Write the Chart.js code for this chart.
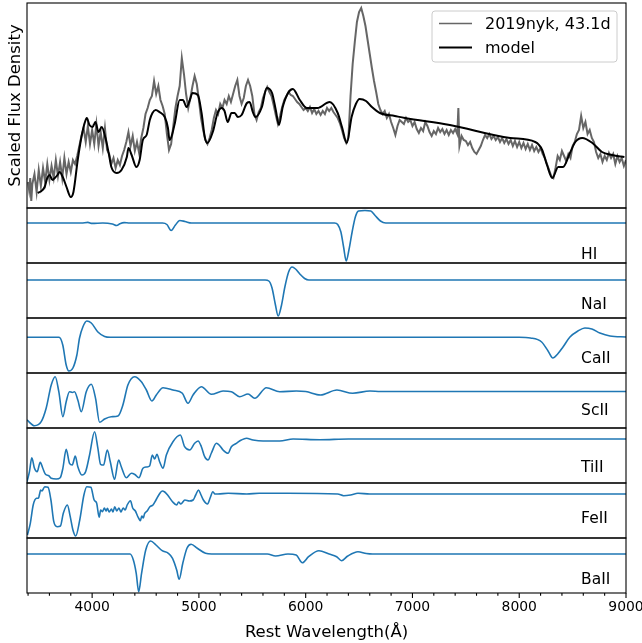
<!DOCTYPE html>
<html><head><meta charset="utf-8">
<script src="https://cdn.jsdelivr.net/npm/chart.js@4.4.0/dist/chart.umd.min.js"></script>
<style>html,body{margin:0;padding:0;background:#fff;}canvas{display:block;}</style>
</head><body>
<canvas id="c" width="642" height="643"></canvas>
<script>
// ---------------- data ----------------
const xTickValues = [4000, 5000, 6000, 7000, 8000, 9000];
const xMinorTickValues = [3400, 3600, 3800, 4200, 4400, 4600, 4800, 5200, 5400, 5600, 5800, 6200, 6400, 6600, 6800, 7200, 7400, 7600, 7800, 8200, 8400, 8600, 8800];

// observed spectrum [wavelength (Å), scaled flux]
const obsSpectrum = [
[3400,26],[3410,18],[3420,30],[3430,7],[3440,24],[3460,34],[3480,16],[3500,38],[3520,22],[3540,40],
[3560,26],[3580,44],[3600,28],[3620,42],[3640,30],[3660,48],[3680,32],[3700,46],[3720,30],[3740,50],
[3760,34],[3780,46],[3800,36],[3820,48],[3840,44],[3860,52],[3880,62],[3900,72],[3920,80],[3940,66],
[3960,82],[3980,64],[4000,78],[4020,64],[4040,84],[4060,62],[4080,76],[4100,60],[4120,80],[4140,58],
[4160,54],[4180,44],[4200,50],[4220,40],[4240,48],[4260,43],[4280,52],[4300,58],[4320,66],[4340,76],
[4360,62],[4380,72],[4400,57],[4420,66],[4440,55],[4460,70],[4480,80],[4500,94],[4520,100],[4540,108],
[4560,112],[4580,127],[4600,114],[4620,122],[4640,108],[4660,102],[4680,94],[4700,74],[4720,58],[4740,64],
[4760,82],[4780,100],[4800,112],[4820,122],[4840,150],[4860,134],[4880,114],[4900,100],[4920,110],[4940,122],
[4960,132],[4980,124],[5000,108],[5020,90],[5040,78],[5060,68],[5080,64],[5100,70],[5120,78],[5140,90],
[5160,98],[5180,94],[5200,104],[5220,100],[5240,108],[5260,104],[5280,112],[5300,106],[5320,114],[5340,122],
[5360,128],[5380,112],[5400,104],[5420,110],[5440,122],[5460,128],[5480,122],[5500,112],[5520,94],[5540,88],
[5560,96],[5580,100],[5600,110],[5620,116],[5640,121],[5660,116],[5680,112],[5700,103],[5720,93],[5740,84],
[5760,92],[5780,101],[5800,108],[5820,112],[5840,116],[5860,113],[5880,112],[5900,109],[5920,106],[5940,104],
[5960,101],[5980,98],[6000,100],[6020,97],[6040,101],[6060,95],[6080,99],[6100,94],[6120,97],[6140,93],
[6160,97],[6180,94],[6200,100],[6220,97],[6240,100],[6260,96],[6280,93],[6300,90],[6320,85],[6340,78],
[6360,70],[6380,65],[6400,70],[6420,112],[6440,144],[6460,166],[6480,186],[6500,196],[6520,200],[6540,192],
[6560,182],[6580,168],[6600,154],[6620,140],[6640,127],[6660,116],[6680,104],[6700,98],[6720,94],[6740,97],
[6760,90],[6780,94],[6800,86],[6820,80],[6840,73],[6860,82],[6880,88],[6900,86],[6920,84],[6940,90],
[6960,86],[6980,88],[7000,82],[7020,86],[7040,79],[7060,75],[7080,80],[7100,77],[7120,86],[7140,82],
[7160,76],[7180,72],[7200,77],[7220,74],[7240,80],[7260,76],[7280,79],[7300,74],[7320,78],[7340,73],
[7360,78],[7380,75],[7400,79],[7420,74],[7430,100],[7440,62],[7460,72],[7480,68],[7500,67],[7520,63],
[7540,66],[7560,60],[7580,56],[7600,54],[7620,58],[7640,62],[7660,68],[7680,73],[7700,70],[7720,74],
[7740,69],[7760,72],[7780,68],[7800,71],[7820,66],[7840,70],[7860,65],[7880,69],[7900,64],[7920,68],
[7940,62],[7960,67],[7980,61],[8000,66],[8020,60],[8040,65],[8060,59],[8080,64],[8100,58],[8120,63],
[8140,57],[8160,61],[8180,56],[8200,60],[8220,54],[8240,50],[8260,44],[8280,38],[8300,32],[8320,30],
[8340,40],[8360,52],[8380,48],[8400,57],[8420,52],[8440,47],[8460,54],[8480,50],[8500,62],[8520,66],
[8540,74],[8560,78],[8580,92],[8600,80],[8620,86],[8640,74],[8660,78],[8680,70],[8700,66],[8720,56],
[8740,50],[8760,54],[8780,46],[8800,52],[8820,48],[8840,55],[8860,50],[8880,54],[8900,44],[8920,52],
[8940,46],[8960,50],[8980,42],[9000,48]
];

// synthetic model spectrum
const modelSpectrum = [
[3490,15],[3525,17],[3555,21],[3580,30],[3600,33],[3630,28],[3650,30],[3675,33],[3695,36],[3725,31],
[3760,21],[3800,11],[3825,16],[3865,48],[3900,71],[3930,85],[3950,90],[3975,83],[4005,81],[4030,86],
[4060,76],[4090,81],[4125,70],[4155,55],[4180,41],[4230,35],[4275,38],[4325,51],[4340,60],[4370,53],
[4415,41],[4445,48],[4475,68],[4510,73],[4540,88],[4565,95],[4595,98],[4630,96],[4680,91],[4710,80],
[4725,68],[4745,72],[4775,85],[4820,108],[4850,108],[4885,101],[4915,108],[4940,115],[4990,113],[5025,95],
[5055,71],[5080,65],[5130,76],[5175,95],[5215,100],[5240,97],[5270,86],[5305,95],[5335,95],[5365,91],
[5400,93],[5450,105],[5475,106],[5505,96],[5530,91],[5590,101],[5635,120],[5685,115],[5720,98],[5750,83],
[5785,101],[5835,115],[5880,119],[5945,108],[6010,100],[6110,100],[6225,106],[6300,95],[6340,81],[6385,65],
[6430,91],[6470,104],[6505,109],[6565,107],[6620,101],[6695,95],[6835,92],[6930,90],[7350,83],[7915,70],
[8150,66],[8215,58],[8260,43],[8310,30],[8365,41],[8410,41],[8475,55],[8525,66],[8590,70],[8685,65],
[8775,56],[8870,53],[8985,51]
];

// single-ion contributions
const ionNames = ['HI', 'NaI', 'CaII', 'ScII', 'TiII', 'FeII', 'BaII'];
const hiSpectrum = [[3390,40],[3900,40],[3960,40.6],[4000,39.6],[4100,40],[4190,39],[4230,37.5],[4260,39.3],[4300,40.4],[4350,40],[4660,40],[4700,38.5],[4740,32.5],[4780,38],[4820,42.5],[4870,41.5],[4930,40],[6270,40],[6300,38.5],[6330,31],[6355,16],[6380,2],[6405,13],[6435,31],[6465,46],[6495,52],[6555,52.5],[6610,52],[6650,47.5],[6700,42],[6750,40],[9000,40]];
const naSpectrum = [[3390,38],[5620,38],[5655,37],[5685,30],[5715,14],[5742,2],[5772,12],[5805,31],[5840,46],[5873,51],[5905,49],[5945,44],[5990,39.5],[6030,38],[9000,38]];
const caSpectrum = [[3390,35.7],[3690,35.7],[3725,28],[3757,8],[3782,2],[3820,5],[3857,18],[3882,35],[3913,46],[3950,52],[3992,50],[4054,41],[4117,36.5],[4170,35.7],[8000,35.7],[8105,35],[8210,31],[8270,22],[8315,15],[8360,19],[8410,26],[8475,36],[8550,42],[8615,45],[8680,44],[8755,40],[8850,37],[9000,36]];
const scSpectrum = [[3390,8],[3460,2.3],[3523,6.3],[3570,20],[3617,43],[3654,51.3],[3688,36.3],[3726,11.3],[3757,26.3],[3788,36.3],[3814,35.5],[3835,36.3],[3866,28],[3898,16.3],[3945,36.3],[3992,43.7],[4032,29.7],[4070,5.7],[4117,9],[4179,11.3],[4242,12],[4288,23],[4335,43],[4398,51.3],[4461,46.3],[4508,38],[4560,27],[4601,33],[4664,40.3],[4757,38],[4845,34.7],[4898,24.7],[4945,33],[5023,41.3],[5117,33.7],[5226,37],[5304,36.3],[5382,31.3],[5460,34],[5523,29.7],[5632,40.3],[5757,36.3],[5913,37],[6000,36.5],[6139,33],[6293,38],[6440,34.7],[6602,37],[6700,36.5],[9000,36.5]];
const tiSpectrum = [[3390,1.3],[3413,11.3],[3435,25.3],[3460,14.7],[3485,11.3],[3514,20.7],[3538,14.7],[3563,8.7],[3594,7.3],[3617,4.7],[3664,4],[3701,5.3],[3726,14.7],[3757,33.7],[3788,19.7],[3814,18],[3842,27],[3866,16.3],[3904,8],[3939,11.3],[3976,28],[4023,51.3],[4054,34.7],[4079,18.7],[4107,18],[4142,33],[4170,21.3],[4210,3.7],[4248,23],[4273,16.3],[4320,5.3],[4367,9.7],[4400,8.5],[4438,5.3],[4476,14.7],[4510,16],[4538,17],[4564,28],[4585,24],[4607,28.7],[4632,21.3],[4664,14.7],[4695,28],[4757,41.3],[4826,48],[4866,36.3],[4914,33],[4960,39.7],[4992,42],[5023,36.3],[5054,26.3],[5085,23],[5117,30],[5164,39.7],[5195,37.3],[5226,33],[5273,29.7],[5304,36.3],[5351,39.7],[5398,43],[5445,44.7],[5507,43],[5601,42],[5757,42],[5882,44],[6132,43.3],[6400,44],[9000,44]];
const feSpectrum = [[3394,3],[3421,14.7],[3448,33],[3479,39.7],[3498,40],[3508,44],[3517,48],[3530,47],[3556,51.3],[3587,50.7],[3614,38],[3641,16.3],[3672,11.3],[3703,12],[3730,24.7],[3768,33],[3795,21.3],[3820,8],[3846,2],[3884,18],[3923,43],[3950,51.3],[3988,50.7],[4019,38],[4042,35],[4066,20.7],[4080,28],[4097,26.3],[4115,30],[4130,27],[4143,29.7],[4160,26],[4181,29],[4195,26],[4212,31.3],[4230,27],[4251,30],[4270,26],[4290,30],[4310,28],[4328,33],[4359,37.3],[4380,30],[4405,27],[4425,22],[4440,19],[4452,17.3],[4465,22],[4480,20],[4490,24],[4515,27],[4541,31.3],[4570,33],[4598,38],[4630,44],[4656,47],[4680,46],[4707,43],[4753,36.3],[4792,33],[4810,36],[4830,34],[4869,38],[4910,37],[4946,38],[4970,43],[4996,48],[5020,43],[5042,38],[5081,34],[5105,40],[5131,46.3],[5150,44],[5178,44],[5274,44.7],[5448,44],[5564,44.7],[5834,44.7],[6300,44],[6355,42.3],[6420,43],[6490,44.7],[6600,44],[9000,44]];
const baSpectrum = [[3390,39],[4355,39],[4386,33],[4413,19.7],[4436,1.3],[4463,19.7],[4502,43],[4548,52],[4598,48],[4656,42.3],[4714,39.7],[4753,34.7],[4792,23],[4815,13.7],[4849,29.7],[4888,44.7],[4927,48.7],[4985,44.7],[5062,39.7],[5120,39],[5641,39],[5718,37],[5834,39],[5911,38],[5969,30.3],[6027,36.3],[6124,42.3],[6220,39],[6290,36.3],[6336,32.3],[6394,37],[6490,41.3],[6568,39.5],[6626,39],[9000,39]];

// ---------------- chart ----------------
const FONT = 'DejaVu Sans';
Chart.defaults.font.family = FONT;
const ionData = [hiSpectrum, naSpectrum, caSpectrum, scSpectrum, tiSpectrum, feSpectrum, baSpectrum];
const ionAxes = ['yHI', 'yNa', 'yCa', 'ySc', 'yTi', 'yFe', 'yBa'];
const ionLabelLift = [4, 9, 10.5, 13, 11, 15, 9.5];
const pts = arr => arr.map(([x, y]) => ({x, y}));

function panelAxis(weight, stackWeight, max, extra) {
  return Object.assign({
    type: 'linear', position: 'left', stack: 'panels', stackWeight, weight, min: 0, max,
    grid: {display: false, drawTicks: false}, border: {display: false},
    ticks: {display: false},
    afterFit(s) { s.width = 27; }
  }, extra || {});
}

const scales = {
  x: {
    type: 'linear', position: 'bottom', min: 3390, max: 9000,
    grid: {display: false, drawTicks: false}, border: {display: false},
    ticks: {font: {family: FONT, size: 13.9}, color: '#000', padding: 6.5, maxRotation: 0, autoSkip: false,
            callback: v => String(v)},
    afterBuildTicks(s) { s.ticks = xTickValues.map(v => ({value: v})); },
    title: {display: true, text: 'Rest Wavelength(Å)', color: '#000', font: {family: FONT, size: 16.5},
            padding: {top: 0, bottom: 0}},
    afterFit(s) { s.height = 50; s.paddingLeft = 0; s.paddingRight = 0; }
  },
  yMain: panelAxis(10, 205, 205, {
    title: {display: true, text: 'Scaled Flux Density', color: '#000', font: {family: FONT, size: 16.5},
            padding: {top: 5.5, bottom: 0}}
  })
};
ionAxes.forEach((id, i) => { scales[id] = panelAxis(9 - i, 55, 55); });

const datasets = [
  {label: 'model', data: pts(modelSpectrum), yAxisID: 'yMain', borderColor: '#000', borderWidth: 2,
   pointRadius: 0, cubicInterpolationMode: 'monotone', order: 0},
  {label: '2019nyk, 43.1d', data: pts(obsSpectrum), yAxisID: 'yMain', borderColor: '#666666', borderWidth: 2,
   pointRadius: 0, order: 1}
];
ionNames.forEach((n, i) => datasets.push({
  label: n, data: pts(ionData[i]), yAxisID: ionAxes[i], borderColor: '#1f77b4', borderWidth: 1.6,
  pointRadius: 0, cubicInterpolationMode: 'monotone', order: 2
}));

const decor = {
  id: 'decor',
  afterDatasetsDraw(chart) {
    const {ctx, chartArea: a} = chart;
    ctx.save();
    // panel frames
    ctx.strokeStyle = '#000';
    ctx.lineWidth = 1.1;
    ['yMain'].concat(ionAxes).forEach(id => {
      const s = chart.scales[id];
      ctx.strokeRect(a.left, s.top, a.right - a.left, s.bottom - s.top);
    });
    // x tick marks
    const xs = chart.scales.x;
    ctx.beginPath();
    xMinorTickValues.forEach(v => { const p = xs.getPixelForValue(v); ctx.moveTo(p, a.bottom); ctx.lineTo(p, a.bottom + 2.8); });
    xTickValues.forEach(v => { const p = xs.getPixelForValue(v); ctx.moveTo(p, a.bottom); ctx.lineTo(p, a.bottom + 4.9); });
    ctx.stroke();
    // ion labels
    ctx.fillStyle = '#000';
    ctx.font = '15.5px "DejaVu Sans"';
    ctx.textAlign = 'left';
    ctx.textBaseline = 'alphabetic';
    const lx = a.left + 0.925 * (a.right - a.left);
    ionNames.forEach((n, i) => {
      const s = chart.scales[ionAxes[i]];
      ctx.fillText(n, lx, s.bottom - ionLabelLift[i]);
    });
    // legend
    const top = chart.scales.yMain.top;
    const bw = 185, bh = 51;
    const bx = a.right - 9 - bw, by = top + 8;
    ctx.beginPath();
    ctx.roundRect(bx, by, bw, bh, 3);
    ctx.fillStyle = 'rgba(255,255,255,0.8)';
    ctx.fill();
    ctx.strokeStyle = '#cccccc';
    ctx.lineWidth = 1;
    ctx.stroke();
    const rows = [{c: '#666666', w: 1.6, t: datasets[1].label}, {c: '#000', w: 2, t: datasets[0].label}];
    ctx.font = '16px "DejaVu Sans"';
    ctx.textBaseline = 'middle';
    rows.forEach((r, i) => {
      const y = by + 12.5 + i * 24;
      ctx.beginPath();
      ctx.strokeStyle = r.c; ctx.lineWidth = r.w;
      ctx.moveTo(bx + 7, y); ctx.lineTo(bx + 40, y);
      ctx.stroke();
      ctx.fillStyle = '#000';
      ctx.fillText(r.t, bx + 53, y + 1);
    });
    ctx.restore();
  }
};

new Chart(document.getElementById('c'), {
  type: 'line',
  data: {datasets},
  options: {
    responsive: false, animation: false, events: [],
    layout: {padding: {top: 3, right: 16, bottom: 0, left: 0}},
    plugins: {legend: {display: false}, tooltip: {enabled: false}},
    scales
  },
  plugins: [decor]
});
</script>
</body></html>
